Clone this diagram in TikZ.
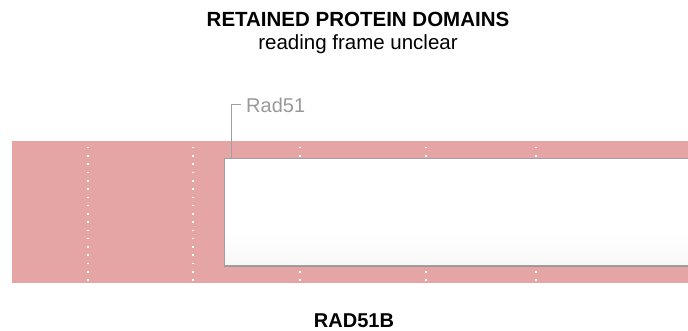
\documentclass[tikz,border=0pt]{standalone}
\usepackage{fontspec}
\setmainfont{Liberation Sans}
\usetikzlibrary{positioning,shadows}
\definecolor{domPink}{HTML}{E5A5A5}
\definecolor{domGrey}{HTML}{A0A0A0}
\definecolor{domText}{HTML}{999999}
\pgfdeclareverticalshading{domShade}{100bp}{color(0bp)=(black!8); color(40bp)=(white); color(100bp)=(white)}
\tikzset{
  title/.style={font=\fontsize{20.5}{24}\selectfont\bfseries, inner sep=0pt, anchor=base},
  subtitle/.style={font=\fontsize{20.5}{24}\selectfont, inner sep=0pt, anchor=base},
  gene/.style={font=\fontsize{20}{24}\selectfont\bfseries, inner sep=0pt, anchor=base},
  domainbox/.style={draw=domGrey, line width=1.2pt, shading=domShade,
              minimum width=480pt, minimum height=107pt, inner sep=0pt, anchor=north west,
              drop shadow={shadow xshift=-1pt, shadow yshift=-1pt, fill=black!40, opacity=1}},
  domlbl/.style={font=\fontsize{20}{24}\selectfont, text=domText, inner sep=0pt, anchor=base west},
  leader/.style={draw=domGrey, line width=1pt},
  frameline/.style={draw=white, line width=1.6pt, dash pattern=on 1.6pt off 6.67pt},
}

\begin{document}
\begin{tikzpicture}[x=1pt,y=-1pt]
  \useasboundingbox (0,0) rectangle (688,331);
  % titles
  \node[title] (head) at (358,27) {RETAINED PROTEIN DOMAINS};
  \node[subtitle] (sub) at (358,50) {reading frame unclear};
  % exon band
  \fill[domPink] (12,141) rectangle (688,283);
  \foreach \x in {88,193,300,426,536}{
    \draw[frameline] (\x,146.9) -- (\x,283);}
  % Rad51 domain
  \node[domainbox] (rad) at (224,158) {};
  \node[domlbl] (radlbl) at (246,113) {Rad51};
  \coordinate (radtip) at ([xshift=7pt]rad.north west);
  \draw[leader] (radtip) |- ([xshift=-5pt,yshift=8pt]radlbl.base west);
  % gene name
  \node[gene] (gene) at (354,327) {RAD51B};
\end{tikzpicture}
\end{document}
